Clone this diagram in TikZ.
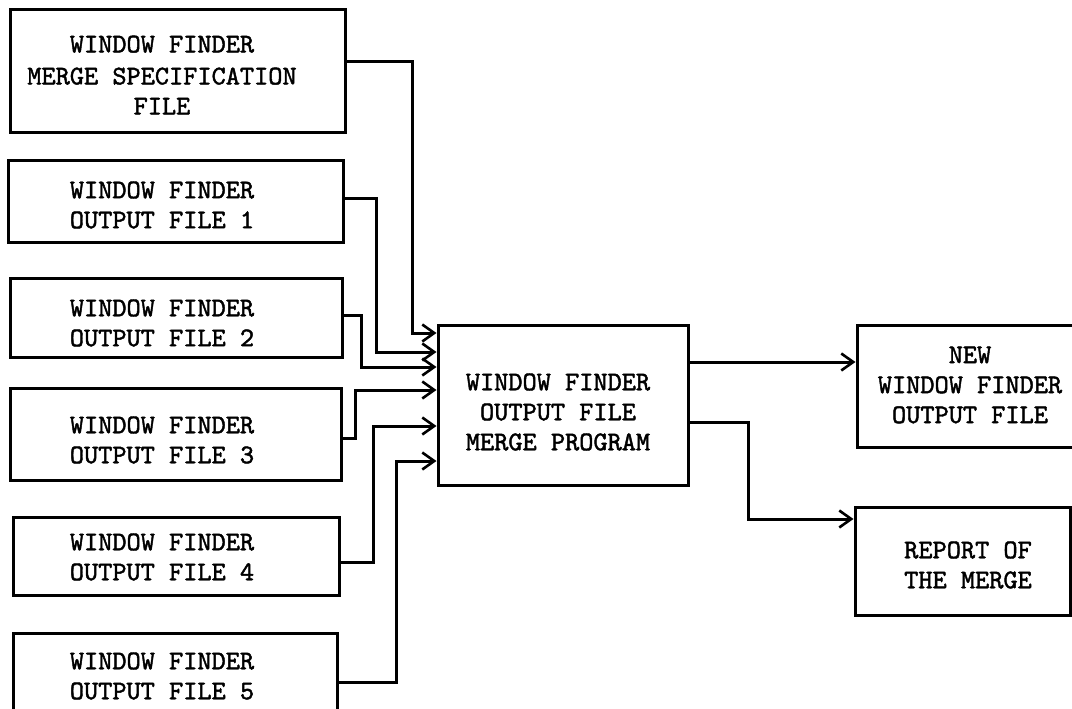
\documentclass[tikz,border=0pt]{standalone}
\usepackage{fontspec}
\newfontfamily\twfont{lmmono10-regular.otf}[FakeBold=1.6]
\usetikzlibrary{arrows.meta}
\begin{document}
\begin{tikzpicture}[x=1pt,y=-1pt,
  box/.style={draw,line width=3pt,inner sep=0pt},
  lbl/.style={align=center,inner sep=0pt,font=\fontsize{27}{30}\selectfont\twfont},
  conn/.style={line width=3pt,-{Straight Barb[length=12pt,width=17pt,line width=2.6pt]}}]
\useasboundingbox[fill=white] (0,0) rectangle (1072,709);
\clip (0,0) rectangle (1072,709);
% left boxes
\node[box,minimum width=335pt,minimum height=122pt] (bA) at (177.5,71) {};
\node[box,minimum width=335pt,minimum height=82pt] (bB) at (175.5,201) {};
\node[box,minimum width=332pt,minimum height=79pt] (bC) at (176,317.5) {};
\node[box,minimum width=331pt,minimum height=92pt] (bD) at (175.5,434) {};
\node[box,minimum width=326pt,minimum height=78pt] (bE) at (176,556) {};
\node[box,minimum width=324pt,minimum height=87pt] (bF) at (175,676.5) {};
% center and right boxes
\node[box,minimum width=250pt,minimum height=160pt] (bM) at (563,405) {};
\node[box,minimum width=228pt,minimum height=122pt] (bN) at (971,386) {};
\node[box,minimum width=215pt,minimum height=108pt] (bR) at (962.5,561) {};
% texts
\node[lbl] (tA) at (162,75) {WINDOW FINDER\\[2pt]MERGE SPECIFICATION\\FILE};
\node[lbl] (tB) at (162,205) {WINDOW FINDER\\OUTPUT FILE 1};
\node[lbl] (tC) at (162,323) {WINDOW FINDER\\OUTPUT FILE 2};
\node[lbl] (tD) at (162,440) {WINDOW FINDER\\OUTPUT FILE 3};
\node[lbl] (tE) at (162,557) {WINDOW FINDER\\OUTPUT FILE 4};
\node[lbl] (tF) at (162,676) {WINDOW FINDER\\OUTPUT FILE 5};
\node[lbl] (tM) at (558,412) {WINDOW FINDER\\OUTPUT FILE\\MERGE PROGRAM};
\node[lbl] (tN) at (970,385) {NEW\\WINDOW FINDER\\OUTPUT FILE};
\node[lbl] (tR) at (968,565) {REPORT OF\\THE MERGE};
% connectors into merge program
\draw[conn] (bA.east |- 0,62) -| (412,333) -- (bM.west |- 0,333);
\draw[conn] (bB.east |- 0,198) -| (376,352) -- (bM.west |- 0,352);
\draw[conn] (bC.east |- 0,315) -| (361,367) -- (bM.west |- 0,367);
\draw[conn] (bD.east |- 0,438) -| (355,390) -- (bM.west |- 0,390);
\draw[conn] (bE.east |- 0,562) -| (373,426) -- (bM.west |- 0,426);
\draw[conn] (bF.east |- 0,682) -| (396,461) -- (bM.west |- 0,461);
% outputs
\draw[conn] (bM.east |- 0,362) -- (bN.west |- 0,362);
\draw[conn] (bM.east |- 0,422) -| (748,519) -- (bR.west |- 0,519);
\end{tikzpicture}
\end{document}
